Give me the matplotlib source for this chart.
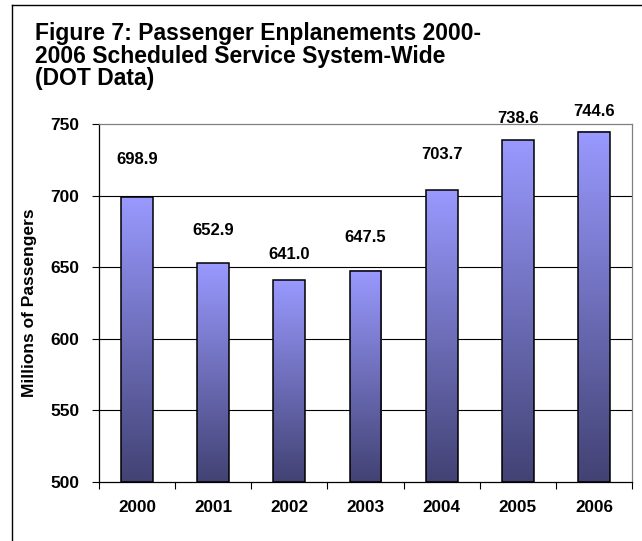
import matplotlib
matplotlib.use("Agg")
import matplotlib.pyplot as plt
import numpy as np
from matplotlib.colors import LinearSegmentedColormap
from matplotlib.patches import Rectangle
from matplotlib.lines import Line2D

years = ["2000", "2001", "2002", "2003", "2004", "2005", "2006"]
values = [698.9, 652.9, 641.0, 647.5, 703.7, 738.6, 744.6]
y_ticks = [500, 550, 600, 650, 700, 750]

# label placement offsets (data units above bar top), as in the original
label_offsets = [26, 23, 18, 23, 25, 15, 14]

plt.rcParams['font.family'] = ['Liberation Sans', 'DejaVu Sans']

W, H = 642, 541
fig = plt.figure(figsize=(W/100, H/100), dpi=100)
ax = fig.add_axes([99/W, 59/H, 533/W, 358/H])

# outer frame (left and top edges visible)
fig.add_artist(Line2D([12/W, 12/W], [0, 1 - 4.5/H], transform=fig.transFigure,
                      color='black', linewidth=1.0))
fig.add_artist(Line2D([12/W, 1], [1 - 4.5/H, 1 - 4.5/H], transform=fig.transFigure,
                      color='black', linewidth=1.0))

cmap = LinearSegmentedColormap.from_list("g", ["#424274", "#9999ff"])
grad = np.linspace(0, 1, 256).reshape(-1, 1)

x = np.arange(len(years))
width = 0.42
ymin, ymax = 500, 750

for xi, v in zip(x, values):
    ax.imshow(grad, extent=(xi - width/2, xi + width/2, ymin, v),
              origin='lower', cmap=cmap, aspect='auto', zorder=2)
    ax.add_patch(Rectangle((xi - width/2, ymin), width, v - ymin,
                           fill=False, edgecolor='black', linewidth=1.1, zorder=3))

for xi, v, off in zip(x, values, label_offsets):
    ax.text(xi, v + off, f"{v:.1f}", ha='center', va='center',
            fontsize=12, fontweight='bold', zorder=4, clip_on=False)

ax.set_xlim(-0.5, len(years) - 0.5)
ax.set_ylim(ymin, ymax)
ax.set_yticks(y_ticks)
ax.set_yticklabels([str(t) for t in y_ticks], fontsize=12.5, fontweight='bold')
for t in y_ticks[1:-1]:
    ax.axhline(t, color='black', linewidth=0.8, zorder=1)

ax.set_xticks(x)
ax.set_xticklabels(years, fontsize=12.3, fontweight='bold')
ax.set_xticks(np.arange(-0.5, len(years) + 0.5, 1), minor=True)
ax.tick_params(axis='x', which='major', length=0, pad=13)
ax.tick_params(axis='x', which='minor', length=5, width=0.8, direction='out')
ax.tick_params(axis='y', length=5, width=0.8, direction='out', pad=9)

ax.spines['top'].set_color('#808080')
ax.spines['right'].set_color('#808080')
ax.spines['left'].set_color('black')
ax.spines['bottom'].set_color('black')
for s in ax.spines.values():
    s.set_linewidth(0.9)

ax.set_ylabel("Millions of Passengers", fontsize=12.5, fontweight='bold')
ax.yaxis.set_label_coords(-62/533, 0.5)

fig.text(35/W, 1 - 22/H,
         "Figure 7: Passenger Enplanements 2000-\n2006 Scheduled Service System-Wide\n(DOT Data)",
         ha='left', va='top', fontsize=16.5, fontweight='bold', linespacing=0.98)

fig.savefig("out.png", dpi=100)
